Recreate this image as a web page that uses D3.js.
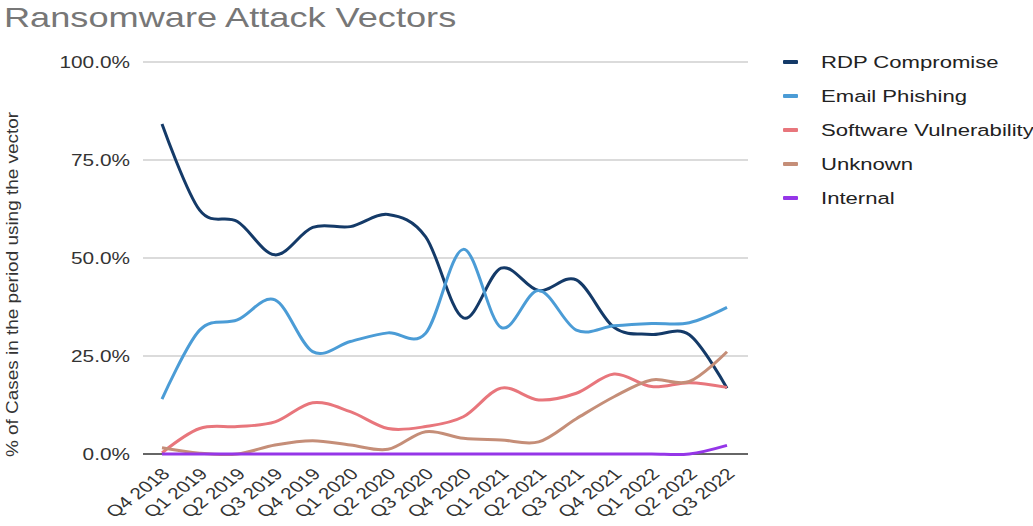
<!DOCTYPE html>
<html lang="en">
  <head>
    <meta charset="utf-8">
    <title>Ransomware Attack Vectors</title>
    <style type="text/css">
      body { margin: 0; background: #fff; }
      text { font-family: "Liberation Sans", Arial, sans-serif; }
    </style>
  </head>
  <body>
    <div id="my_dataviz"></div>

    <script src="https://d3js.org/d3.v7.min.js"></script>
    <script>

    // data (percent of cases)
    var quarters = ["Q4 2018", "Q1 2019", "Q2 2019", "Q3 2019", "Q4 2019", "Q1 2020", "Q2 2020", "Q3 2020",
                    "Q4 2020", "Q1 2021", "Q2 2021", "Q3 2021", "Q4 2021", "Q1 2022", "Q2 2022", "Q3 2022"];
    var seriesNames = ["RDP Compromise", "Email Phishing", "Software Vulnerability", "Unknown", "Internal"];
    var rdp      = [84.2, 62.2, 59.3, 50.8, 57.8, 58.0, 61.1, 55.4, 34.7, 47.4, 41.7, 44.4, 32.3, 30.5, 30.4, 16.8];
    var email    = [14.0, 31.6, 34.2, 39.3, 26.1, 28.7, 30.9, 30.8, 52.2, 32.3, 41.7, 31.6, 32.7, 33.3, 33.5, 37.4];
    var software = [0.3, 6.5, 7.0, 8.2, 13.1, 10.8, 6.5, 7.0, 9.5, 16.8, 13.8, 15.5, 20.4, 17.2, 18.2, 17.0];
    var unknown  = [1.6, 0.2, 0.0, 2.3, 3.4, 2.3, 1.2, 5.7, 4.0, 3.6, 3.1, 9.0, 14.6, 18.9, 18.5, 26.1];
    var internal = [0, 0, 0, 0, 0, 0, 0, 0, 0, 0, 0, 0, 0, 0, 0, 2.2];
    var yTicks   = [0, 25, 50, 75, 100];
    var colors   = ["#143a68", "#4b9cd6", "#e8767c", "#c58e78", "#9536e8"];

    var allSeries = [rdp, email, software, unknown, internal];

    var width = 1033, height = 526;
    var sx = 1.3; // the reference is stretched sideways, text follows it

    var svg = d3.select("#my_dataviz")
      .append("svg")
        .attr("width", width)
        .attr("height", height);

    var x = d3.scalePoint()
      .domain(quarters)
      .range([162, 727]);

    var y = d3.scaleLinear()
      .domain([0, 100])
      .range([454, 62]);

    // title
    svg.append("text")
      .attr("transform", "translate(4,27) scale(1.34,1)")
      .attr("font-size", "27px")
      .attr("fill", "#777")
      .text("Ransomware Attack Vectors");

    // gridlines
    svg.selectAll(".grid")
      .data(yTicks.filter(function(d){ return d > 0; }))
      .enter()
      .append("line")
        .attr("x1", 143)
        .attr("x2", 748)
        .attr("y1", function(d){ return y(d); })
        .attr("y2", function(d){ return y(d); })
        .attr("stroke", "#cfcfcf")
        .attr("stroke-width", 1.5);

    // y tick labels
    svg.selectAll(".ytick")
      .data(yTicks)
      .enter()
      .append("text")
        .attr("transform", function(d){ return "translate(130," + (y(d) + 6) + ") scale(" + sx + ",1)"; })
        .attr("text-anchor", "end")
        .attr("font-size", "16px")
        .attr("fill", "#333")
        .text(function(d){ return d.toFixed(1) + "%"; });

    // y axis title
    svg.append("text")
      .attr("transform", "translate(18,457) rotate(-90)")
      .attr("font-size", "16px")
      .attr("fill", "#333")
      .attr("textLength", 345)
      .attr("lengthAdjust", "spacingAndGlyphs")
      .text("% of Cases in the period using the vector");

    // x labels
    svg.selectAll(".xtick")
      .data(quarters)
      .enter()
      .append("text")
        .attr("transform", function(d){ return "translate(" + (x(d) + 9) + ",475) scale(" + sx + ",1) rotate(-45)"; })
        .attr("text-anchor", "end")
        .attr("font-size", "16px")
        .attr("fill", "#333")
        .text(function(d){ return d; });

    // baseline
    svg.append("line")
      .attr("x1", 143)
      .attr("x2", 748)
      .attr("y1", y(0))
      .attr("y2", y(0))
      .attr("stroke", "#333")
      .attr("stroke-width", 1.5);

    // smooth lines
    var line = d3.line()
      .x(function(d, i){ return x(quarters[i]); })
      .y(function(d){ return y(d); })
      .curve(d3.curveCatmullRom.alpha(0));

    svg.selectAll(".series")
      .data(allSeries)
      .enter()
      .append("path")
        .attr("d", function(d){ return line(d); })
        .attr("fill", "none")
        .attr("stroke", function(d, i){ return colors[i]; })
        .attr("stroke-width", 3)
        .attr("stroke-linejoin", "round");

    // legend
    var legend = svg.selectAll(".legend")
      .data(seriesNames)
      .enter()
      .append("g")
        .attr("transform", function(d, i){ return "translate(0," + (62 + i * 34) + ")"; });

    legend.append("rect")
      .attr("x", 783)
      .attr("y", -2)
      .attr("width", 15)
      .attr("height", 4)
      .attr("rx", 1)
      .attr("fill", function(d, i){ return colors[i]; });

    legend.append("text")
      .attr("transform", "translate(821,6) scale(" + sx + ",1)")
      .attr("font-size", "17px")
      .attr("fill", "#222")
      .text(function(d){ return d; });

    </script>
  </body>
</html>
